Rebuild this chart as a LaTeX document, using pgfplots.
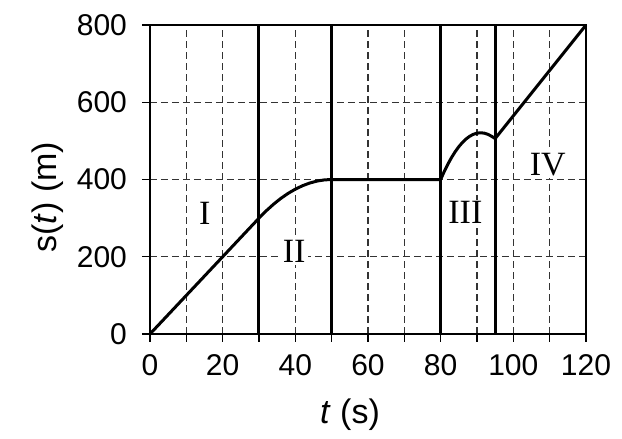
\documentclass[border=0pt]{standalone}
\usepackage{fontspec}
\setmainfont{Liberation Sans}
\newfontfamily\romanfont{Liberation Serif}
\usepackage{pgfplots}
\pgfplotsset{compat=1.18}
\begin{document}
\begin{tikzpicture}
\path[use as bounding box] (-75pt,-52.5pt) rectangle (236pt,167pt);
\begin{axis}[
  at={(0,0)}, anchor=south west,
  width=218pt, height=154.5pt, scale only axis,
  xmin=0, xmax=120, ymin=0, ymax=800,
  xtick={0,20,...,120}, minor xtick={10,30,...,110},
  ytick={0,200,...,800},
  tick align=outside, xtick pos=bottom, ytick pos=left,
  major tick length=4pt, minor tick length=4pt,
  every tick/.style={black, line width=0.7pt},
  every minor tick/.style={black, line width=0.7pt},
  axis line style={black, line width=0.75pt},
  grid=both,
  major grid style={black!80, line width=0.6pt, dash pattern=on 3.5pt off 2pt},
  minor grid style={black!80, line width=0.6pt, dash pattern=on 3.5pt off 2pt},
  tick label style={font=\fontsize{15}{17}\selectfont},
  /pgf/number format/assume math mode=true,
  /pgf/number format/1000 sep={},
  xticklabel style={yshift=-2.5pt},
  yticklabel style={xshift=-4pt},
  clip=false,
]
\addplot[black, line width=1.5pt] coordinates {(30,0) (30,800)};
\addplot[black, line width=1.5pt] coordinates {(50,0) (50,800)};
\addplot[black, line width=1.5pt] coordinates {(80,0) (80,800)};
\addplot[black, line width=1.5pt] coordinates {(95,0) (95,800)};
\addplot[black, line width=1.5pt, line join=round] coordinates {
  (0,0) (30,300) (32,319) (34,336) (36,351) (38,364) (40,375) (42,384)
  (44,391) (46,396) (48,399) (50,400) (80,400) (81,421) (82,440) (83,457)
  (84,472) (85,485) (86,496) (87,505) (88,512) (89,517) (90,520) (91,521)
  (92,520) (93,517) (94,512) (95,506) (120,800)};
\node[fill=white, inner sep=1pt, font=\romanfont\fontsize{17}{19}\selectfont] at (axis cs:15.1,313) {I};
\node[fill=white, inner sep=1pt, font=\romanfont\fontsize{17}{19}\selectfont] at (axis cs:39.7,213) {II};
\node[fill=white, inner sep=1pt, font=\romanfont\fontsize{17}{19}\selectfont] at (axis cs:86.8,314) {III};
\node[fill=white, inner sep=1pt, font=\romanfont\fontsize{17}{19}\selectfont] at (axis cs:109.5,439) {IV};
\end{axis}
\node[rotate=90, font=\fontsize{17}{19}\selectfont] at (-51pt,68.5pt) {s(\textit{t}) (m)};
\node[font=\fontsize{17}{19}\selectfont] at (100pt,-40.5pt) {\textit{t} (s)};
\end{tikzpicture}
\end{document}
